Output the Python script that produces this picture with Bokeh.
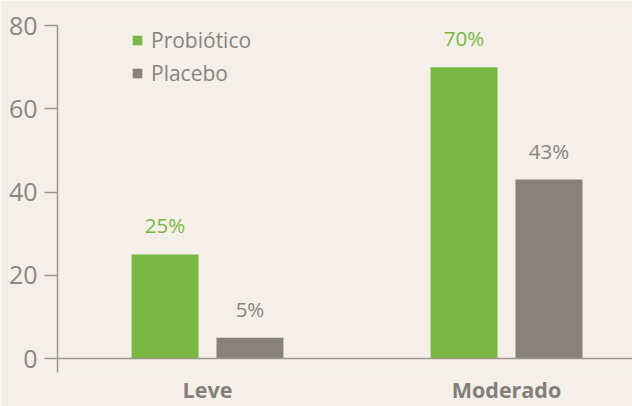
from bokeh.plotting import figure
from bokeh.models import ColumnDataSource, Legend, LegendItem, FixedTicker, Range1d, Span
from bokeh.core.properties import value
from bokeh.embed import file_html
from bokeh.resources import INLINE

categories = ["Leve", "Moderado"]
probiotico = [25, 70]
placebo = [5, 43]
probiotico_labels = ["25%", "70%"]
placebo_labels = ["5%", "43%"]
y_ticks = [0, 20, 40, 60, 80]

GREEN = "#7ab843"
GRAY = "#8a817c"
TEXT = "#8a827d"
AXIS = "#9c9691"
BG = "#f4f0e9"
FONT = "Open Sans"

xpos = list(range(len(categories)))
off = 0.142
bw = 0.224

src_p = ColumnDataSource(dict(x=[v - off for v in xpos], top=probiotico, lab=probiotico_labels))
src_c = ColumnDataSource(dict(x=[v + off for v in xpos], top=placebo, lab=placebo_labels))

p = figure(width=632, height=406, output_backend="svg", toolbar_location=None,
           x_range=Range1d(-0.5017, 1.4214), y_range=Range1d(-3.35, 80),
           min_border_left=57, min_border_right=0, min_border_top=25, min_border_bottom=33)
p.background_fill_color = BG
p.border_fill_color = BG
p.outline_line_color = None
p.grid.visible = False

r1 = p.vbar(x="x", top="top", width=bw, source=src_p, fill_color=GREEN, line_color=None)
r2 = p.vbar(x="x", top="top", width=bw, source=src_c, fill_color=GRAY, line_color=None)

p.add_layout(Span(location=0, dimension="width", line_color=AXIS, line_width=1.5))

p.text(x="x", y="top", text="lab", source=src_p, text_color=GREEN, text_font=value(FONT),
       text_font_size="20.5px", text_align="center", text_baseline="middle", y_offset=-29)
p.text(x="x", y="top", text="lab", source=src_c, text_color=TEXT, text_font=value(FONT),
       text_font_size="20.5px", text_align="center", text_baseline="middle", y_offset=-29)

# axes
p.yaxis.ticker = FixedTicker(ticks=y_ticks)
p.yaxis.minor_tick_line_color = None
p.yaxis.major_tick_in = 0
p.yaxis.major_tick_out = 13
p.yaxis.axis_line_color = AXIS
p.yaxis.major_tick_line_color = AXIS
p.yaxis.axis_line_width = 1.5
p.yaxis.major_tick_line_width = 1.5
p.yaxis.major_label_text_font = FONT
p.yaxis.major_label_text_font_size = "25px"
p.yaxis.major_label_text_color = "#8c8580"
p.yaxis.major_label_standoff = 7

p.xaxis.ticker = FixedTicker(ticks=xpos)
p.xaxis.major_label_overrides = {i: c for i, c in zip(xpos, categories)}
p.xaxis.minor_tick_line_color = None
p.xaxis.major_tick_in = 0
p.xaxis.major_tick_out = 0
p.xaxis.axis_line_color = None
p.xaxis.major_label_text_font = FONT
p.xaxis.major_label_text_font_size = "21.5px"
p.xaxis.major_label_text_font_style = "bold"
p.xaxis.major_label_text_color = "#857e79"
p.xaxis.major_label_standoff = 2

legend = Legend(items=[LegendItem(label="Probiótico", renderers=[r1]),
                       LegendItem(label="Placebo", renderers=[r2])],
                location=(74, 285))
legend.background_fill_alpha = 0
legend.border_line_color = None
legend.padding = 0
legend.margin = 0
legend.spacing = 4
legend.glyph_width = 12
legend.glyph_height = 12
legend.label_height = 29
legend.label_standoff = 8
legend.label_text_font = FONT
legend.label_text_font_size = "21px"
legend.label_text_color = TEXT
p.add_layout(legend)

open("out.html", "w").write(file_html(p, INLINE))
